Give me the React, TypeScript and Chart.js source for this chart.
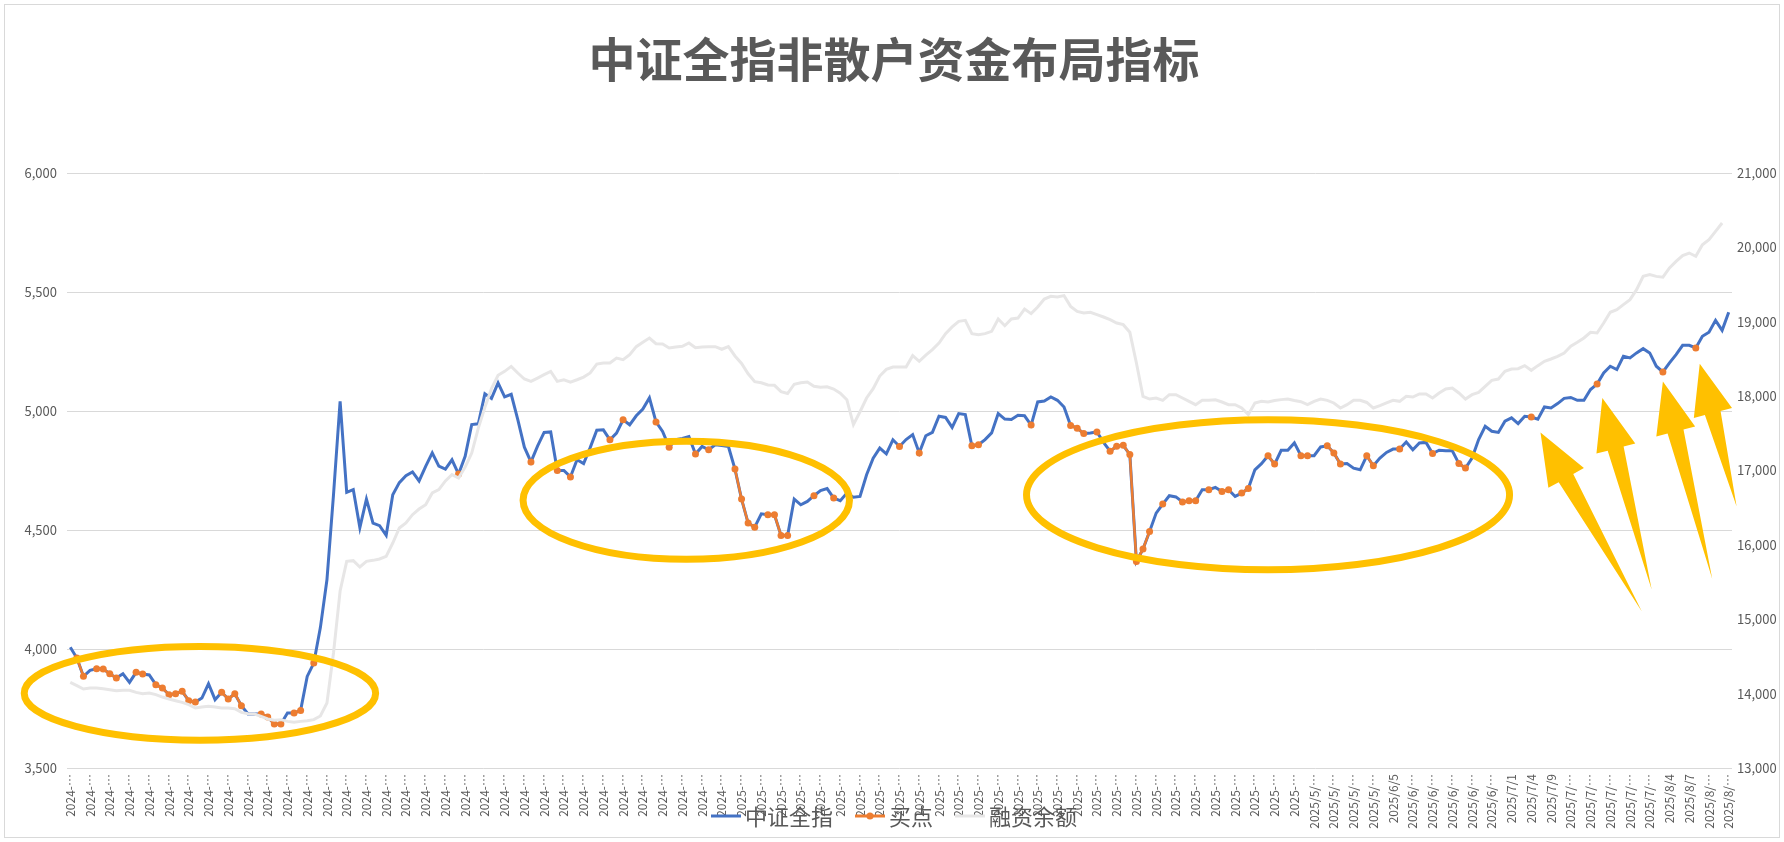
import React, { useEffect, useRef } from "react";
import { Chart, registerables } from "chart.js";

Chart.register(...registerables);

// ---------- text ----------
const TITLE = "中证全指非散户资金布局指标";
const SERIES_NAMES = ["中证全指", "买点", "融资余额"];

// ---------- categories: trading days (month -> days) ----------
const TRADING_DAYS: [string, number[]][] = [
  ["2024-08", [1, 2, 5, 6, 7, 8, 9, 12, 13, 14, 15, 16, 19, 20, 21, 22, 23, 26, 27, 28, 29, 30]],
  ["2024-09", [2, 3, 4, 5, 6, 9, 10, 11, 12, 13, 18, 19, 20, 23, 24, 25, 26, 27, 30]],
  ["2024-10", [8, 9, 10, 11, 14, 15, 16, 17, 18, 21, 22, 23, 24, 25, 28, 29, 30, 31]],
  ["2024-11", [1, 4, 5, 6, 7, 8, 11, 12, 13, 14, 15, 18, 19, 20, 21, 22, 25, 26, 27, 28, 29]],
  ["2024-12", [2, 3, 4, 5, 6, 9, 10, 11, 12, 13, 16, 17, 18, 19, 20, 23, 24, 25, 26, 27, 30, 31]],
  ["2025-01", [2, 3, 6, 7, 8, 9, 10, 13, 14, 15, 16, 17, 20, 21, 22, 23, 24, 27]],
  ["2025-02", [5, 6, 7, 10, 11, 12, 13, 14, 17, 18, 19, 20, 21, 24, 25, 26, 27, 28]],
  ["2025-03", [3, 4, 5, 6, 7, 10, 11, 12, 13, 14, 17, 18, 19, 20, 21, 24, 25, 26, 27, 28, 31]],
  ["2025-04", [1, 2, 3, 7, 8, 9, 10, 11, 14, 15, 16, 17, 18, 21, 22, 23, 24, 25, 28, 29, 30]],
  ["2025-05", [6, 7, 8, 9, 12, 13, 14, 15, 16, 19, 20, 21, 22, 23, 26, 27, 28, 29, 30]],
  ["2025-06", [3, 4, 5, 6, 9, 10, 11, 12, 13, 16, 17, 18, 19, 20, 23, 24, 25, 26, 27, 30]],
  ["2025-07", [1, 2, 3, 4, 7, 8, 9, 10, 11, 14, 15, 16, 17, 18, 21, 22, 23, 24, 25, 28, 29, 30, 31]],
  ["2025-08", [1, 4, 5, 6, 7, 8, 11, 12, 13, 14, 15]],
];
// dates from this one on are written as "2025/5/19" in the source sheet
const SLASH_FORMAT_FROM = "2025-05-15";
const LABEL_EVERY = 3;

// ---------- series ----------
const _ = null;

// 中证全指 (left axis)
const csiAllShare = [
  4007, 3962, 3885, 3910, 3917, 3916, 3896, 3878, 3896, 3860,
  3902, 3895, 3891, 3850, 3836, 3808, 3812, 3822, 3783, 3777,
  3794, 3854, 3787, 3818, 3790, 3812, 3762, 3727, 3727, 3727,
  3714, 3685, 3685, 3731, 3731, 3742, 3885, 3941, 4090, 4291,
  4650, 5041, 4658, 4670, 4510, 4630, 4529, 4518, 4478, 4648,
  4699, 4728, 4744, 4706, 4767, 4824, 4768, 4756, 4795, 4735,
  4810, 4943, 4946, 5072, 5053, 5118, 5059, 5070, 4964, 4848,
  4786, 4852, 4910, 4912, 4750, 4750, 4723, 4795, 4779, 4846,
  4919, 4921, 4879, 4907, 4963, 4942, 4980, 5008, 5055, 4954,
  4914, 4848, 4880, 4885, 4893, 4819, 4851, 4837, 4858, 4855,
  4851, 4756, 4630, 4529, 4512, 4568, 4564, 4564, 4477, 4477,
  4630, 4606, 4620, 4644, 4666, 4674, 4634, 4623, 4655, 4638,
  4641, 4732, 4802, 4844, 4820, 4879, 4851, 4880, 4901, 4824,
  4896, 4910, 4978, 4973, 4931, 4989, 4985, 4854, 4858, 4880,
  4908, 4989, 4966, 4964, 4982, 4980, 4941, 5038, 5042, 5059,
  5045, 5017, 4939, 4928, 4905, 4908, 4912, 4868, 4831, 4852,
  4856, 4817, 4368, 4420, 4494, 4571, 4609, 4644, 4639, 4618,
  4623, 4623, 4669, 4669, 4679, 4662, 4669, 4641, 4655, 4674,
  4753, 4779, 4812, 4777, 4835, 4835, 4866, 4812, 4812, 4812,
  4849, 4854, 4824, 4777, 4779, 4760, 4753, 4812, 4770, 4802,
  4826, 4840, 4840, 4870, 4837, 4866, 4868, 4821, 4835, 4833,
  4833, 4779, 4760, 4802, 4880, 4936, 4915, 4910, 4957, 4971,
  4947, 4978, 4975, 4966, 5017, 5013, 5031, 5053, 5057, 5045,
  5045, 5090, 5113, 5160, 5188, 5174, 5230, 5223, 5244, 5262,
  5244, 5188, 5164, 5202, 5237, 5276, 5276, 5265, 5314, 5331,
  5381, 5339, 5415,
];

// 买点 (left axis, only on signal days)
const buyPoints = [
  _, 3962, 3885, _, 3917, 3916, 3896, 3878, _, _,
  3902, 3895, _, 3850, 3836, 3808, 3812, 3822, 3783, 3777,
  _, _, _, 3818, 3790, 3812, 3762, _, _, 3727,
  3714, 3685, 3685, _, 3731, 3742, _, 3941, _, _,
  _, _, _, _, _, _, _, _, _, _,
  _, _, _, _, _, _, _, _, _, 4735,
  _, _, _, _, _, _, _, _, _, _,
  4786, _, _, _, 4750, _, 4723, _, _, _,
  _, _, 4879, _, 4963, _, _, _, _, 4954,
  _, 4848, _, _, _, 4819, _, 4837, _, _,
  _, 4756, 4630, 4529, 4512, _, 4564, 4564, 4477, 4477,
  _, _, _, 4644, _, _, 4634, _, _, _,
  _, _, _, _, _, _, 4851, _, _, 4824,
  _, _, _, _, _, _, _, 4854, 4858, _,
  _, _, _, _, _, _, 4941, _, _, _,
  _, _, 4939, 4928, 4905, _, 4912, _, 4831, 4852,
  4856, 4817, 4368, 4420, 4494, _, 4609, _, _, 4618,
  4623, 4623, _, 4669, _, 4662, 4669, _, 4655, 4674,
  _, _, 4812, 4777, _, _, _, 4812, 4812, _,
  _, 4854, 4824, 4777, _, _, _, 4812, 4770, _,
  _, _, 4840, _, _, _, _, 4821, _, _,
  _, 4779, 4760, _, _, _, _, _, _, _,
  _, _, 4975, _, _, _, _, _, _, _,
  _, _, 5113, _, _, _, _, _, _, _,
  _, _, 5164, _, _, _, _, 5265, _, _,
  _, _, _,
];

// 融资余额 (right axis)
const marginBalance = [
  14151, 14107, 14062, 14075, 14075, 14066, 14053, 14039, 14044, 14044,
  14017, 13999, 14008, 13986, 13954, 13927, 13905, 13883, 13851, 13806,
  13820, 13829, 13820, 13806, 13806, 13797, 13748, 13730, 13726, 13694,
  13659, 13641, 13650, 13627, 13614, 13627, 13636, 13650, 13700, 13874,
  14550, 15380, 15779, 15788, 15703, 15779, 15792, 15810, 15846, 16025,
  16227, 16294, 16406, 16482, 16540, 16698, 16742, 16860, 16944, 16899,
  17045, 17235, 17570, 17850, 18100, 18280, 18333, 18400, 18311, 18230,
  18198, 18243, 18288, 18333, 18198, 18220, 18189, 18220, 18256, 18311,
  18430, 18445, 18445, 18512, 18490, 18557, 18665, 18725, 18781, 18705,
  18700, 18647, 18660, 18670, 18714, 18650, 18660, 18665, 18665, 18630,
  18665, 18540, 18440, 18300, 18195, 18180, 18150, 18145, 18060, 18035,
  18160, 18180, 18190, 18132, 18120, 18125, 18095, 18040, 17952, 17616,
  17790, 17975, 18100, 18270, 18360, 18391, 18392, 18392, 18544, 18468,
  18550, 18625, 18714, 18840, 18930, 19006, 19019, 18840, 18826, 18840,
  18871, 19037, 18947, 19037, 19050, 19171, 19109, 19198, 19306, 19342,
  19333, 19351, 19207, 19140, 19118, 19127, 19095, 19064, 19028, 18983,
  18961, 18858, 18445, 17997, 17961, 17975, 17943, 18020, 18020, 17975,
  17930, 17885, 17943, 17943, 17950, 17921, 17885, 17885, 17840, 17751,
  17908, 17930, 17920, 17940, 17953, 17960, 17940, 17925, 17885, 17930,
  17961, 17943, 17908, 17840, 17885, 17943, 17943, 17915, 17840, 17872,
  17908, 17943, 17930, 17997, 17988, 18029, 18029, 17975, 18042, 18096,
  18109, 18042, 17961, 18020, 18051, 18132, 18212, 18230, 18333, 18365,
  18369, 18410, 18347, 18410, 18468, 18499, 18535, 18580, 18670, 18723,
  18782, 18858, 18849, 18983, 19127, 19163, 19230, 19297, 19431, 19610,
  19633, 19610, 19600, 19723, 19812, 19889, 19924, 19880, 20036, 20104,
  20216, 20328, _,
];

// ---------- axes ----------
const LEFT_MIN = 3500;
const LEFT_MAX = 6000;
const LEFT_STEP = 500;
const RIGHT_MIN = 13000;
const RIGHT_MAX = 21000;
const RIGHT_STEP = 1000;

// ---------- hand-drawn annotations, in data units (category index, left-axis value) ----------
const ELLIPSES = [
  { cx: 19.7, cy: 3814, rx: 26.7, ry: 197 },
  { cx: 93.6, cy: 4625, rx: 24.8, ry: 248 },
  { cx: 182.0, cy: 4648, rx: 36.7, ry: 315 },
];
const ARROWS = [
  { tip: [223.4, 4910], left: [224.6, 4677], right: [230.0, 4760], tail: [238.8, 4158] },
  { tip: [232.8, 5055], left: [231.9, 4821], right: [237.8, 4863], tail: [240.3, 4249] },
  { tip: [242.0, 5124], left: [241.0, 4893], right: [246.9, 4935], tail: [249.5, 4294] },
  { tip: [247.6, 5199], left: [246.7, 4971], right: [252.5, 5013], tail: [253.2, 4599] },
];

// ---------- styles ----------
const BLUE = "#4472C4";
const ORANGE = "#ED7D31";
const GREY = "#E7E6E6";
const YELLOW = "#FFC000";
const TEXT = "#595959";
const GRID = "#D9D9D9";
const FONT = '"Noto Sans CJK SC", "Noto Sans", sans-serif';

function buildLabels(): string[] {
  const out: string[] = [];
  for (const [ym, days] of TRADING_DAYS) {
    const [yy, mm] = ym.split("-");
    for (const d of days) {
      const iso = `${yy}-${mm}-${String(d).padStart(2, "0")}`;
      out.push(iso >= SLASH_FORMAT_FROM ? `${yy}/${Number(mm)}/${d}` : iso);
    }
  }
  return out;
}

// Excel-like truncation of long category labels
function shorten(label: string): string {
  if (label.length <= 8) return label;
  let cut = -1;
  for (let i = 0; i < label.length; i++) {
    const c = label[i];
    if ((c === "-" || c === "/") && i + 1 <= 7) cut = i;
  }
  return (cut >= 0 ? label.slice(0, cut + 1) : label.slice(0, 7)) + "…";
}

const fmt = (v: number) => Number(v).toLocaleString("en-US");

const overlayPlugin = {
  id: "overlay",
  afterDatasetsDraw(chart: any) {
    const { ctx } = chart;
    const xs = chart.scales.x;
    const ys = chart.scales.y;
    const px = (i: number) => xs.getPixelForValue(i);
    const py = (v: number) => ys.getPixelForValue(v);
    ctx.save();
    ctx.strokeStyle = YELLOW;
    ctx.fillStyle = YELLOW;
    ctx.lineWidth = 7;
    for (const e of ELLIPSES) {
      const cx = px(e.cx);
      const cy = py(e.cy);
      const rx = Math.abs(px(e.cx + e.rx) - cx);
      const ry = Math.abs(py(e.cy + e.ry) - cy);
      ctx.beginPath();
      ctx.ellipse(cx, cy, rx, ry, 0, 0, Math.PI * 2);
      ctx.stroke();
    }
    for (const a of ARROWS) {
      const T = [px(a.tip[0]), py(a.tip[1])];
      const L = [px(a.left[0]), py(a.left[1])];
      const R = [px(a.right[0]), py(a.right[1])];
      const P = [px(a.tail[0]), py(a.tail[1])];
      const SL = [L[0] + (R[0] - L[0]) * 0.29, L[1] + (R[1] - L[1]) * 0.29];
      const SR = [L[0] + (R[0] - L[0]) * 0.7, L[1] + (R[1] - L[1]) * 0.7];
      ctx.beginPath();
      ctx.moveTo(T[0], T[1]);
      ctx.lineTo(L[0], L[1]);
      ctx.lineTo(SL[0], SL[1]);
      ctx.lineTo(P[0], P[1]);
      ctx.lineTo(SR[0], SR[1]);
      ctx.lineTo(R[0], R[1]);
      ctx.closePath();
      ctx.fill();
    }
    ctx.restore();
  },
  afterDraw(chart: any) {
    const { ctx, width, height } = chart;
    ctx.save();
    // chart border
    ctx.strokeStyle = GRID;
    ctx.lineWidth = 1;
    ctx.strokeRect(4.5, 4.5, width - 9, height - 9);
    // title
    ctx.fillStyle = TEXT;
    ctx.font = `bold 47px ${FONT}`;
    ctx.textAlign = "center";
    ctx.textBaseline = "middle";
    ctx.fillText(TITLE, width / 2 + 2, 59);
    // legend
    ctx.font = `22px ${FONT}`;
    ctx.textAlign = "left";
    const sample = 30;
    const gapText = 4;
    const gapItem = 22;
    const colors = [BLUE, ORANGE, GREY];
    const widths = SERIES_NAMES.map((n) => ctx.measureText(n).width);
    const total = widths.reduce((s, w) => s + sample + gapText + w, 0) + gapItem * (SERIES_NAMES.length - 1);
    let x = width / 2 + 2 - total / 2;
    const y = 816;
    SERIES_NAMES.forEach((name, k) => {
      ctx.strokeStyle = colors[k];
      ctx.lineWidth = 3;
      ctx.beginPath();
      ctx.moveTo(x, y);
      ctx.lineTo(x + sample, y);
      ctx.stroke();
      if (k === 1) {
        ctx.fillStyle = ORANGE;
        ctx.beginPath();
        ctx.arc(x + sample / 2, y, 3.5, 0, Math.PI * 2);
        ctx.fill();
      }
      ctx.fillStyle = TEXT;
      ctx.fillText(name, x + sample + gapText, y + 1);
      x += sample + gapText + widths[k] + gapItem;
    });
    ctx.restore();
  },
};

export default function App() {
  const canvasRef = useRef<HTMLCanvasElement | null>(null);

  useEffect(() => {
    document.body.style.margin = "0";
    const canvas = canvasRef.current;
    if (!canvas) return;
    const labels = buildLabels();
    const chart = new Chart(canvas, {
      type: "line",
      data: {
        labels,
        datasets: [
          {
            label: SERIES_NAMES[0],
            data: csiAllShare,
            borderColor: BLUE,
            backgroundColor: BLUE,
            borderWidth: 3,
            pointRadius: 0,
            tension: 0,
            yAxisID: "y",
            order: 2,
          },
          {
            label: SERIES_NAMES[1],
            data: buyPoints,
            borderColor: ORANGE,
            backgroundColor: ORANGE,
            pointBackgroundColor: ORANGE,
            pointBorderColor: ORANGE,
            borderWidth: 2.5,
            pointRadius: 3.5,
            pointBorderWidth: 0,
            spanGaps: false,
            tension: 0,
            yAxisID: "y",
            order: 1,
          },
          {
            label: SERIES_NAMES[2],
            data: marginBalance,
            borderColor: GREY,
            backgroundColor: GREY,
            borderWidth: 3,
            pointRadius: 0,
            tension: 0,
            yAxisID: "y1",
            order: 0,
          },
        ],
      },
      options: {
        responsive: false,
        animation: false,
        events: [],
        layout: { padding: { top: 173, left: 0, right: 0, bottom: 0 } },
        plugins: {
          legend: { display: false },
          title: { display: false },
          tooltip: { enabled: false },
        },
        scales: {
          x: {
            type: "category",
            offset: true,
            grid: { display: false, drawTicks: false },
            border: { display: false },
            ticks: {
              autoSkip: false,
              maxRotation: 90,
              minRotation: 90,
              padding: 6,
              color: TEXT,
              font: { family: FONT, size: 12 },
              callback: (_v: any, i: number) => (i % LABEL_EVERY === 0 ? shorten(labels[i]) : null),
            },
            afterFit: (s: any) => {
              s.height = 74;
            },
          },
          y: {
            position: "left",
            min: LEFT_MIN,
            max: LEFT_MAX,
            grid: { color: GRID, lineWidth: 1, drawTicks: false },
            border: { display: false },
            ticks: {
              stepSize: LEFT_STEP,
              padding: 10,
              color: TEXT,
              font: { family: FONT, size: 13 },
              callback: (v: any) => fmt(v),
            },
            afterFit: (s: any) => {
              s.width = 67;
            },
          },
          y1: {
            position: "right",
            min: RIGHT_MIN,
            max: RIGHT_MAX,
            grid: { display: false, drawTicks: false },
            border: { display: false },
            ticks: {
              stepSize: RIGHT_STEP,
              padding: 5,
              color: TEXT,
              font: { family: FONT, size: 13 },
              callback: (v: any) => fmt(v),
            },
            afterFit: (s: any) => {
              s.width = 52;
            },
          },
        },
      },
      plugins: [overlayPlugin],
    } as any);
    return () => chart.destroy();
  }, []);

  return (
    <div style={{ width: 1784, height: 842, background: "#fff" }}>
      <canvas ref={canvasRef} width={1784} height={842} style={{ display: "block" }} />
    </div>
  );
}
